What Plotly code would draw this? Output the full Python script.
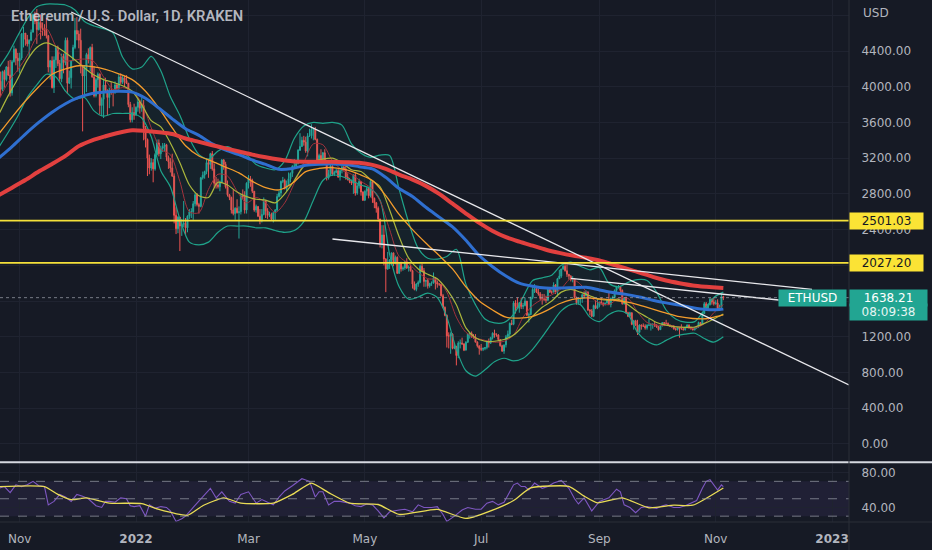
import pandas as pd
import plotly.graph_objects as go
from plotly.subplots import make_subplots

# values
title_text = "Ethereum / U.S. Dollar, 1D, KRAKEN"
first_day = "2021-10-21"
first_open = 4170

# daily closes / highs / lows, one month per row (Oct 21 2021 .. Nov 5 2022)
closes = [
    4060, 3970, 4170, 4080, 4220, 4130, 3930, 4280, 4420, 4320, 4290,
    4320, 4590, 4600, 4530, 4480, 4520, 4610, 4810, 4730, 4640, 4720, 4660, 4650, 4630, 4570, 4220, 4290, 3990, 4300, 4440, 4260, 4090, 4340, 4270, 4520, 4040, 4100, 4290, 4440, 4630,
    4590, 4520, 4240, 4120, 4200, 4360, 4310, 4440, 4110, 3900, 4080, 4140, 3790, 3860, 4020, 3960, 3880, 3960, 3940, 3940, 4020, 3980, 4110, 4050, 4100, 4070, 4040, 3800, 3630, 3710, 3680,
    3770, 3830, 3760, 3790, 3540, 3410, 3200, 3090, 3150, 3080, 3240, 3370, 3250, 3310, 3330, 3350, 3210, 3160, 3090, 3000, 2560, 2410, 2540, 2440, 2460, 2470, 2420, 2550, 2600, 2600, 2690,
    2790, 2680, 2660, 2980, 3010, 3050, 3150, 3130, 3250, 3080, 2920, 2900, 2880, 2930, 3180, 3130, 2880, 2790, 2760, 2620, 2580, 2640, 2590, 2600, 2780, 2770, 2620, 2920,
    2970, 2950, 2830, 2620, 2660, 2550, 2500, 2570, 2720, 2610, 2560, 2570, 2520, 2590, 2620, 2770, 2810, 2940, 2950, 2860, 2900, 2970, 3030, 3110, 3110, 3140, 3290, 3330, 3400, 3380, 3280,
    3450, 3450, 3520, 3520, 3410, 3170, 3230, 3190, 3260, 3150, 2980, 3030, 3110, 3020, 3040, 3060, 2990, 3060, 3100, 3080, 2990, 2960, 2940, 2920, 3010, 2810, 2890, 2940, 2820, 2730,
    2830, 2860, 2780, 2940, 2750, 2700, 2640, 2520, 2240, 2340, 2070, 1960, 2010, 2060, 2140, 2020, 2090, 1910, 2020, 1960, 1970, 2040, 1970, 1980, 1940, 1790, 1730, 1790, 1810, 1990, 1940,
    1820, 1830, 1770, 1800, 1800, 1860, 1810, 1790, 1790, 1660, 1530, 1440, 1210, 1210, 1230, 1070, 1090, 990, 1130, 1130, 1120, 1050, 1140, 1230, 1240, 1200, 1190, 1140, 1100, 1070,
    1060, 1070, 1080, 1150, 1130, 1190, 1240, 1220, 1220, 1170, 1100, 1040, 1110, 1200, 1230, 1350, 1340, 1580, 1540, 1520, 1580, 1540, 1550, 1600, 1440, 1450, 1640, 1730, 1740, 1700, 1680,
    1630, 1630, 1620, 1610, 1730, 1700, 1700, 1780, 1700, 1850, 1880, 1960, 1990, 1940, 1900, 1880, 1840, 1850, 1640, 1580, 1620, 1630, 1670, 1660, 1700, 1500, 1490, 1430, 1550, 1520, 1550,
    1590, 1580, 1560, 1580, 1620, 1560, 1630, 1640, 1720, 1760, 1760, 1720, 1570, 1640, 1470, 1430, 1470, 1340, 1380, 1330, 1250, 1330, 1320, 1320, 1300, 1330, 1330, 1340, 1340, 1330,
    1310, 1280, 1320, 1360, 1350, 1350, 1330, 1320, 1320, 1290, 1280, 1300, 1290, 1290, 1280, 1310, 1330, 1310, 1290, 1280, 1300, 1310, 1360, 1340, 1460, 1570, 1520, 1560, 1620, 1590, 1570,
    1580, 1520, 1530, 1650, 1638.21,
]
highs = [
    4375, 4170, 4180, 4190, 4230, 4290, 4300, 4300, 4460, 4430, 4380,
    4380, 4600, 4670, 4600, 4580, 4530, 4640, 4820, 4840, 4870, 4780, 4810, 4720, 4700, 4770, 4580, 4300, 4340, 4340, 4450, 4460, 4300, 4370, 4370, 4550, 4550, 4180, 4300, 4470, 4770,
    4780, 4630, 4650, 4240, 4240, 4380, 4430, 4450, 4480, 4230, 4100, 4160, 4150, 3880, 4090, 4100, 3970, 3990, 4050, 3970, 4060, 4040, 4140, 4150, 4130, 4120, 4130, 4040, 3830, 3770, 3810,
    3780, 3870, 3840, 3880, 3850, 3560, 3420, 3240, 3200, 3190, 3260, 3410, 3410, 3340, 3370, 3370, 3360, 3230, 3200, 3250, 3030, 2650, 2550, 2540, 2520, 2720, 2530, 2560, 2630, 2640, 2720,
    2810, 2810, 2700, 2990, 3050, 3060, 3200, 3180, 3260, 3280, 3140, 2990, 2970, 2950, 3190, 3190, 3160, 2950, 2800, 2770, 2850, 2650, 2740, 2660, 2800, 2850, 2830, 2930,
    3010, 3000, 2970, 2830, 2680, 2660, 2630, 2630, 2760, 2730, 2640, 2600, 2590, 2600, 2630, 2800, 2840, 2950, 2990, 2970, 2950, 3040, 3040, 3120, 3190, 3160, 3300, 3480, 3440, 3450, 3440,
    3480, 3530, 3580, 3540, 3550, 3420, 3250, 3300, 3270, 3300, 3170, 3070, 3130, 3120, 3060, 3080, 3080, 3080, 3120, 3160, 3170, 3030, 2980, 2960, 3020, 3040, 2920, 2970, 2940, 2830,
    2840, 2880, 2860, 2960, 2950, 2760, 2710, 2660, 2520, 2450, 2450, 2080, 2150, 2070, 2140, 2140, 2110, 2100, 2030, 2040, 1990, 2050, 2080, 2000, 2010, 1950, 1820, 1800, 1830, 2010, 2020,
    1970, 1840, 1850, 1800, 1820, 1920, 1870, 1830, 1800, 1790, 1680, 1540, 1450, 1250, 1250, 1240, 1120, 1100, 1150, 1170, 1190, 1130, 1150, 1230, 1250, 1260, 1230, 1230, 1150, 1100,
    1120, 1080, 1080, 1160, 1180, 1200, 1250, 1280, 1240, 1230, 1170, 1110, 1110, 1220, 1270, 1360, 1390, 1600, 1610, 1640, 1590, 1640, 1580, 1640, 1600, 1470, 1650, 1780, 1790, 1760, 1740,
    1700, 1680, 1680, 1660, 1740, 1750, 1720, 1810, 1790, 1860, 1950, 1960, 2000, 2030, 2010, 1900, 1890, 1880, 1850, 1650, 1640, 1630, 1680, 1710, 1720, 1710, 1510, 1510, 1560, 1610, 1620,
    1590, 1640, 1580, 1580, 1620, 1690, 1640, 1660, 1730, 1770, 1780, 1760, 1730, 1640, 1650, 1480, 1480, 1470, 1390, 1390, 1390, 1340, 1340, 1350, 1340, 1340, 1400, 1350, 1350, 1370,
    1340, 1320, 1330, 1360, 1360, 1390, 1360, 1340, 1330, 1330, 1300, 1300, 1300, 1340, 1300, 1310, 1340, 1340, 1310, 1310, 1310, 1320, 1370, 1360, 1480, 1590, 1590, 1570, 1640, 1630, 1640,
    1610, 1620, 1560, 1680, 1660,
]
lows = [
    3960, 3890, 3950, 3990, 4060, 4120, 3890, 3900, 4270, 4240, 4170,
    4150, 4300, 4440, 4460, 4450, 4330, 4510, 4610, 4700, 4480, 4630, 4530, 4570, 4570, 4540, 4160, 4080, 3980, 3930, 4210, 4230, 4060, 4050, 4150, 4240, 3920, 4030, 3980, 4290, 4420,
    4520, 4430, 4150, 3500, 3910, 3940, 4260, 4170, 4100, 3880, 3880, 3990, 3690, 3670, 3650, 3950, 3680, 3760, 3910, 3780, 3920, 3950, 3950, 4030, 4030, 4000, 4030, 3770, 3600, 3600, 3630,
    3680, 3720, 3700, 3720, 3400, 3320, 3000, 3020, 3060, 2930, 3060, 3230, 3220, 3190, 3270, 3280, 3170, 3080, 3040, 2990, 2470, 2350, 2360, 2160, 2330, 2430, 2340, 2370, 2520, 2530, 2510,
    2660, 2660, 2580, 2650, 2960, 2970, 3020, 2980, 3080, 3060, 2870, 2860, 2860, 2830, 2920, 3070, 2860, 2770, 2730, 2580, 2560, 2510, 2580, 2300, 2570, 2740, 2580, 2580,
    2860, 2880, 2810, 2600, 2590, 2540, 2460, 2480, 2560, 2530, 2520, 2540, 2500, 2480, 2510, 2600, 2760, 2770, 2920, 2850, 2830, 2890, 2930, 2990, 3090, 3090, 3130, 3280, 3330, 3340, 3260,
    3220, 3440, 3420, 3400, 3400, 3160, 3140, 3180, 3180, 3150, 2950, 2960, 3000, 3000, 3000, 3030, 2980, 2950, 3030, 3050, 2960, 2950, 2920, 2900, 2800, 2780, 2790, 2860, 2780, 2720,
    2720, 2780, 2750, 2760, 2700, 2640, 2590, 2490, 2200, 2190, 2000, 1700, 1950, 1960, 2000, 1990, 2010, 1910, 1910, 1930, 1940, 1950, 1960, 1930, 1930, 1740, 1720, 1710, 1760, 1800, 1930,
    1760, 1760, 1740, 1750, 1770, 1800, 1730, 1750, 1770, 1650, 1520, 1430, 1080, 1070, 1010, 1060, 1060, 880, 960, 1070, 1110, 1040, 1050, 1130, 1180, 1190, 1180, 1140, 1080, 1000,
    1040, 1040, 1050, 1060, 1080, 1120, 1170, 1190, 1200, 1150, 1090, 1030, 1010, 1080, 1180, 1190, 1330, 1330, 1460, 1510, 1470, 1510, 1510, 1540, 1440, 1360, 1440, 1620, 1690, 1690, 1660,
    1610, 1560, 1600, 1580, 1600, 1690, 1680, 1700, 1680, 1650, 1850, 1860, 1950, 1930, 1870, 1840, 1820, 1810, 1630, 1560, 1560, 1560, 1580, 1640, 1650, 1490, 1440, 1420, 1420, 1510, 1510,
    1530, 1560, 1540, 1550, 1570, 1560, 1530, 1610, 1630, 1700, 1740, 1690, 1560, 1560, 1460, 1420, 1430, 1330, 1280, 1320, 1220, 1250, 1280, 1310, 1280, 1280, 1320, 1270, 1290, 1310,
    1300, 1270, 1280, 1320, 1320, 1340, 1320, 1310, 1300, 1280, 1270, 1270, 1190, 1280, 1270, 1270, 1300, 1290, 1280, 1270, 1270, 1290, 1300, 1320, 1340, 1460, 1500, 1500, 1550, 1560, 1550,
    1560, 1510, 1510, 1530, 1610,
]

# moving averages, sampled weekly from Oct 21 2021 plus the last bar
ma_dates = list(pd.date_range("2021-10-21", "2022-11-03", freq="7D")) + [pd.Timestamp("2022-11-05")]
sma200 = [2785, 2870, 2955, 3050, 3135, 3225, 3335, 3400, 3445, 3485, 3512,
          3505, 3490, 3470, 3420, 3383, 3345, 3310, 3275, 3240, 3210, 3185, 3165, 3160,
          3160, 3160, 3155, 3148, 3125, 3080, 3015, 2960, 2890, 2800, 2690, 2580, 2475,
          2385, 2315, 2265, 2220, 2175, 2140, 2110, 2085, 2055, 2010, 1965, 1920, 1870,
          1830, 1800, 1775, 1760, 1748, 1745]
sma100 = [3200, 3330, 3470, 3600, 3715, 3810, 3880, 3925, 3942, 3950, 3940,
          3870, 3760, 3640, 3530, 3455, 3360, 3290, 3240, 3180, 3130, 3075, 3085, 3120,
          3132, 3135, 3128, 3105, 3080, 2985, 2860, 2770, 2650, 2540, 2430, 2280, 2110,
          1985, 1880, 1800, 1765, 1745, 1745, 1750, 1755, 1725, 1695, 1675, 1645, 1610,
          1580, 1555, 1525, 1505, 1505, 1510]
sma50 = [3470, 3660, 3840, 4000, 4140, 4200, 4235, 4225, 4195, 4145, 4080,
         3950, 3760, 3540, 3340, 3225, 3165, 3100, 3035, 2940, 2870, 2845, 2920, 3050,
         3085, 3095, 3072, 3020, 2950, 2780, 2570, 2400, 2250, 2110, 1960, 1760, 1600,
         1500, 1420, 1410, 1430, 1490, 1570, 1620, 1635, 1625, 1612, 1590, 1555, 1510,
         1465, 1425, 1405, 1402, 1435, 1445]

# Bollinger bands and the thin fast average, sampled every 5 days from Oct 21 2021
bb_dates = pd.date_range("2021-10-21", "2022-11-05", freq="5D")
bb_basis = [3690, 3900, 4090, 4300, 4440, 4490, 4450, 4380, 4300, 4210,
            4130, 4080, 4050, 4010, 3950, 3800, 3620, 3550, 3370, 3150,
            2900, 2780, 2760, 2930, 2900, 2820, 2770, 2740, 2730, 2700,
            2800, 2950, 3110, 3160, 3190, 3200, 3150, 3070, 3050, 2960,
            2880, 2620, 2320, 2080, 1960, 1900, 1850, 1730, 1560, 1300,
            1190, 1150, 1150, 1170, 1220, 1320, 1430, 1530, 1600, 1700,
            1730, 1700, 1660, 1620, 1610, 1620, 1560, 1480, 1420, 1360,
            1330, 1310, 1305, 1310, 1350, 1400, 1455]
bb_upper = [4210, 4370, 4570, 4760, 4895, 4925, 4925, 4915, 4860, 4730,
            4680, 4650, 4600, 4330, 4200, 4220, 4340, 4180, 3890, 3680,
            3420, 3240, 3190, 3280, 3330, 3270, 3235, 3130, 3090, 3070,
            3170, 3420, 3560, 3600, 3590, 3600, 3570, 3360, 3255, 3210,
            3235, 3230, 2850, 2480, 2190, 2080, 2070, 2100, 2180, 1790,
            1560, 1400, 1355, 1360, 1450, 1645, 1830, 1860, 1890, 2000,
            2035, 1990, 1950, 1975, 1800, 1760, 1810, 1840, 1830, 1700,
            1500, 1400, 1365, 1370, 1500, 1640, 1700]
bb_lower = [3320, 3490, 3670, 3880, 4020, 4140, 4110, 3950, 3860, 3880,
            3730, 3670, 3700, 3700, 3700, 3650, 3440, 3060, 2880, 2520,
            2260, 2230, 2260, 2370, 2440, 2440, 2440, 2420, 2420, 2390,
            2370, 2390, 2490, 2730, 2950, 3010, 2995, 2950, 2900, 2860,
            2730, 2120, 1760, 1620, 1645, 1690, 1640, 1420, 1060, 820,
            760, 830, 920, 960, 930, 960, 1060, 1200, 1350, 1490,
            1560, 1560, 1420, 1370, 1450, 1490, 1450, 1250, 1150, 1110,
            1160, 1210, 1230, 1240, 1180, 1140, 1200]
fast_ma = [3850, 4050, 4190, 4350, 4560, 4650, 4450, 4290, 4300, 4310,
           4280, 4110, 3970, 3990, 3950, 3820, 3540, 3300, 3240, 2940,
           2600, 2590, 2850, 3020, 3000, 2830, 2700, 2760, 2700, 2590,
           2700, 2920, 3150, 3360, 3350, 3170, 3070, 3020, 2940, 2870,
           2720, 2400, 2100, 2020, 1920, 1850, 1840, 1700, 1420, 1250,
           1190, 1160, 1140, 1150, 1220, 1420, 1550, 1620, 1670, 1740,
           1850, 1790, 1650, 1580, 1560, 1630, 1630, 1480, 1360, 1330,
           1330, 1315, 1302, 1298, 1345, 1470, 1560]

# RSI pane
rsi_dates = [
    "2021-10-21", "2021-10-24", "2021-10-27", "2021-10-30", "2021-11-02", "2021-11-05", "2021-11-08",
    "2021-11-11", "2021-11-14", "2021-11-16", "2021-11-19", "2021-11-22", "2021-11-25", "2021-11-28",
    "2021-12-01", "2021-12-04", "2021-12-07", "2021-12-11", "2021-12-14", "2021-12-16", "2021-12-18",
    "2021-12-21", "2021-12-24", "2021-12-27", "2021-12-29", "2021-12-31",
    "2022-01-03", "2022-01-06", "2022-01-08", "2022-01-11", "2022-01-14", "2022-01-17", "2022-01-19",
    "2022-01-22", "2022-01-25", "2022-01-27", "2022-01-31",
    "2022-02-04", "2022-02-09", "2022-02-12", "2022-02-15", "2022-02-19", "2022-02-22", "2022-02-25",
    "2022-03-01", "2022-03-05", "2022-03-08", "2022-03-11", "2022-03-14", "2022-03-17", "2022-03-20",
    "2022-03-24", "2022-03-29",
    "2022-04-02", "2022-04-05", "2022-04-07", "2022-04-09", "2022-04-12", "2022-04-15", "2022-04-18",
    "2022-04-21", "2022-04-23", "2022-04-26", "2022-04-29",
    "2022-05-02", "2022-05-05", "2022-05-08", "2022-05-11", "2022-05-14", "2022-05-16", "2022-05-19",
    "2022-05-22", "2022-05-26", "2022-05-29",
    "2022-06-01", "2022-06-05", "2022-06-08", "2022-06-11", "2022-06-13", "2022-06-17", "2022-06-21",
    "2022-06-24", "2022-06-28",
    "2022-07-01", "2022-07-04", "2022-07-07", "2022-07-10", "2022-07-13", "2022-07-16", "2022-07-18",
    "2022-07-20", "2022-07-22", "2022-07-24", "2022-07-26", "2022-07-29",
    "2022-08-02", "2022-08-05", "2022-08-08", "2022-08-12", "2022-08-14", "2022-08-16", "2022-08-19",
    "2022-08-21", "2022-08-24", "2022-08-28",
    "2022-09-01", "2022-09-06", "2022-09-10", "2022-09-12", "2022-09-14", "2022-09-17", "2022-09-20",
    "2022-09-23", "2022-09-26",
    "2022-10-01", "2022-10-04", "2022-10-06", "2022-10-10", "2022-10-13", "2022-10-16", "2022-10-19",
    "2022-10-22", "2022-10-25", "2022-10-27", "2022-10-29", "2022-10-31",
    "2022-11-02", "2022-11-04", "2022-11-05",
]
rsi_values = [
    62, 64, 57, 66, 64, 66, 70, 65, 64, 43, 47, 55, 52, 47, 55, 53, 50, 42, 40, 47, 47, 46, 51, 50, 42, 41,
    42, 30, 43, 39, 41, 40, 36, 24, 27, 30, 40,
    50, 62, 51, 58, 47, 45, 55,
    58, 45, 49, 46, 43, 52, 59, 65, 73,
    70, 52, 58, 58, 43, 47, 47, 46, 45, 42, 41,
    44, 43, 36, 28, 35, 36, 37, 38, 35, 43,
    40, 40, 41, 32, 24, 30, 37, 40, 38,
    38, 45, 47, 43, 46, 58, 66, 68, 64, 64, 60, 68,
    62, 64, 68, 71, 67, 62, 50, 44, 51, 36,
    47, 51, 61, 58, 43, 40, 34, 40, 41,
    39, 42, 43, 40, 40, 42, 45, 48, 62, 70, 72, 66,
    60, 66, 64,
]
rsi_ma_dates = [
    "2021-10-21", "2021-11-14", "2021-11-21", "2021-11-28", "2021-12-06", "2021-12-18", "2022-01-04",
    "2022-01-13", "2022-01-28", "2022-02-05", "2022-02-16", "2022-02-25", "2022-03-14", "2022-03-24",
    "2022-04-03", "2022-04-12", "2022-04-23", "2022-05-08", "2022-05-19", "2022-06-08", "2022-06-23",
    "2022-07-10", "2022-07-18", "2022-07-27", "2022-08-16", "2022-08-24", "2022-08-31", "2022-09-13",
    "2022-09-27", "2022-10-10", "2022-10-20", "2022-11-05",
]
rsi_ma_values = [64, 64, 55, 49, 51, 45, 44.5, 37.7, 31, 42, 51, 45, 45, 55, 68, 57, 45, 43.4, 32,
                 37.7, 27.4, 39.6, 48, 62.4, 64.3, 53, 45.3, 51, 39.6, 42.6, 42.6, 62.4]
rsi_levels = [70, 50, 30]

# drawn trendlines (start / end) and horizontal levels
trend_dates = [["2021-11-28", "2023-01-09 21:00"],
               ["2022-04-14", "2022-12-21 12:00"],
               ["2022-08-17", "2022-12-04"]]
trend_prices = [[4837, 660], [2295, 1731], [1855, 1612]]
levels = [2501.03, 2027.20]
countdown = "08:09:38"

price_ticks = [0, 400, 800, 1200, 1600, 2000, 2400, 2800, 3200, 3600, 4000, 4400, 4800]
price_tick_text = ["0.00", "400.00", "800.00", "1200.00", "", "", "2400.00", "2800.00",
                   "3200.00", "3600.00", "4000.00", "4400.00", ""]
date_ticks = ["2021-11-01", "2022-01-01", "2022-03-01", "2022-05-01", "2022-07-01",
              "2022-09-01", "2022-11-01", "2023-01-01"]
date_tick_text = ["Nov", "<b>2022</b>", "Mar", "May", "Jul", "Sep", "Nov", "<b>2023</b>"]

# ---- figure ----
BG = "#161a25"
GRID = "#1f2330"
AXIS_TXT = "#b2b5be"
TEAL = "#26a69a"
RED = "#ef5350"
FONT = "DejaVu Sans"

dates = pd.date_range(first_day, periods=len(closes), freq="D")
opens = [first_open] + closes[:-1]
highs = [max(h, o, c) for h, o, c in zip(highs, opens, closes)]
lows = [min(l, o, c) for l, o, c in zip(lows, opens, closes)]
last_price = closes[-1]

fig = make_subplots(rows=2, cols=1, shared_xaxes=True, vertical_spacing=0,
                    row_heights=[0.8856, 0.1144])

fig.add_trace(go.Candlestick(
    x=dates, open=opens, high=highs, low=lows, close=closes,
    increasing=dict(line=dict(color=TEAL, width=1), fillcolor=TEAL),
    decreasing=dict(line=dict(color=RED, width=1), fillcolor=RED),
    whiskerwidth=0, showlegend=False, hoverinfo="skip"), row=1, col=1)


def smooth_line(x, y, color, width, **kw):
    return go.Scatter(x=x, y=y, mode="lines", showlegend=False, hoverinfo="skip",
                      line=dict(color=color, width=width, shape="spline", smoothing=0.8), **kw)


bb_color = "#1fa38a"
fig.add_trace(smooth_line(bb_dates, bb_upper, bb_color, 1.2), row=1, col=1)
fig.add_trace(smooth_line(bb_dates, bb_lower, bb_color, 1.2, fill="tonexty",
                          fillcolor="rgba(34,171,148,0.06)"), row=1, col=1)
fig.add_trace(smooth_line(bb_dates, fast_ma, "#a3323c", 1), row=1, col=1)
fig.add_trace(smooth_line(bb_dates, bb_basis, "#aab63c", 1.2), row=1, col=1)
fig.add_trace(smooth_line(ma_dates, sma50, "#f39c2c", 1.3), row=1, col=1)
fig.add_trace(smooth_line(ma_dates, sma100, "#2f6fd0", 3), row=1, col=1)
fig.add_trace(smooth_line(ma_dates, sma200, "#e2403f", 4), row=1, col=1)

for td, tp in zip(trend_dates, trend_prices):
    fig.add_trace(go.Scatter(x=td, y=tp, mode="lines", showlegend=False, hoverinfo="skip",
                             line=dict(color="#e8e8ec", width=1.3)), row=1, col=1)

# RSI
fig.add_trace(go.Scatter(x=rsi_dates, y=rsi_values, mode="lines", showlegend=False,
                         hoverinfo="skip", line=dict(color="#7e57c2", width=1.1)), row=2, col=1)
fig.add_trace(go.Scatter(x=rsi_ma_dates, y=rsi_ma_values, mode="lines", showlegend=False,
                         hoverinfo="skip",
                         line=dict(color="#e9dc55", width=1.3, shape="spline", smoothing=0.5)),
              row=2, col=1)

shapes = []
for lv in levels:
    shapes.append(dict(type="line", xref="x domain", yref="y", x0=0, x1=1, y0=lv, y1=lv,
                       line=dict(color="#f5e13a", width=1.6)))
shapes.append(dict(type="line", xref="x domain", yref="y", x0=0, x1=1, y0=last_price,
                   y1=last_price, line=dict(color="rgba(160,165,175,0.7)", width=1, dash="dot")))
shapes.append(dict(type="rect", xref="x2 domain", yref="y2", x0=0, x1=1, y0=rsi_levels[2],
                   y1=rsi_levels[0], fillcolor="rgba(126,87,194,0.10)", line=dict(width=0),
                   layer="below"))
for lv in rsi_levels:
    shapes.append(dict(type="line", xref="x2 domain", yref="y2", x0=0, x1=1, y0=lv, y1=lv,
                       line=dict(color="rgba(140,144,155,0.8)", width=1, dash="dash")))
# pane separators and price-scale border
shapes.append(dict(type="line", xref="paper", yref="paper", x0=0, x1=1.1, y0=0.1144, y1=0.1144,
                   line=dict(color="#d6d9e0", width=2)))
shapes.append(dict(type="line", xref="paper", yref="paper", x0=0, x1=1.1, y0=0, y1=0,
                   line=dict(color="#2a2e39", width=1)))
shapes.append(dict(type="line", xref="paper", yref="paper", x0=1, x1=1, y0=-0.06, y1=1,
                   line=dict(color="#2a2e39", width=1)))

annotations = [
    dict(text=title_text, xref="paper", yref="paper", x=0.0106, y=0.9693, xanchor="left",
         yanchor="middle", showarrow=False,
         font=dict(family="Roboto", size=14.7, color="rgba(209,212,220,0.85)", weight=600)),
    dict(text="USD", xref="paper", yref="paper", x=861 / 849, y=(522 - 13) / 522,
         xanchor="left", yanchor="middle", showarrow=False,
         font=dict(family=FONT, size=12, color=AXIS_TXT)),
]
for lv in levels:
    annotations.append(dict(text=f"{lv:.2f}", xref="paper", yref="y", x=1, y=lv,
                            xanchor="left", yanchor="middle", showarrow=False,
                            bgcolor="#fbe335", width=71, height=14, borderpad=1,
                            font=dict(family=FONT, size=12, color="#131722")))
annotations.append(dict(text=f"{last_price:.2f}", xref="paper", yref="y", x=1, y=last_price,
                        xanchor="left", yanchor="middle", showarrow=False, bgcolor="#22a592",
                        width=75, height=14, borderpad=1,
                        font=dict(family=FONT, size=12, color="#ffffff")))
annotations.append(dict(text=countdown, xref="paper", yref="y", x=1, y=last_price, yshift=-14,
                        xanchor="left", yanchor="middle", showarrow=False, bgcolor="#22a592",
                        width=75, height=14, borderpad=1,
                        font=dict(family=FONT, size=12, color="#e6f5f2")))
annotations.append(dict(text="ETHUSD", xref="paper", yref="y", x=847 / 849, y=last_price,
                        xanchor="right", yanchor="middle", showarrow=False, bgcolor="#22a592",
                        width=65, height=14, borderpad=1,
                        font=dict(family=FONT, size=12, color="#ffffff")))

fig.update_layout(
    width=932, height=550,
    margin=dict(l=0, r=83, t=0, b=28, autoexpand=False),
    paper_bgcolor=BG, plot_bgcolor=BG,
    showlegend=False,
    shapes=shapes, annotations=annotations,
    font=dict(family=FONT, size=12, color=AXIS_TXT),
)

x_range = ["2021-10-21 16:20", "2023-01-09 21:30"]
fig.update_xaxes(range=x_range, rangeslider_visible=False, showgrid=True, gridcolor=GRID,
                 gridwidth=1, tickvals=date_ticks, ticktext=date_tick_text, zeroline=False,
                 showline=False, automargin=False)
fig.update_xaxes(showticklabels=False, row=1, col=1)
fig.update_xaxes(ticks="outside", ticklen=6, tickcolor=BG,
                 tickfont=dict(family=FONT, size=12, color=AXIS_TXT), row=2, col=1)

fig.update_yaxes(side="right", range=[-205, 4971], tickvals=price_ticks, ticktext=price_tick_text,
                 showgrid=True, gridcolor=GRID, zeroline=False, ticks="outside", ticklen=9,
                 tickcolor=BG, tickfont=dict(family=FONT, size=12, color=AXIS_TXT),
                 automargin=False, row=1, col=1)
fig.update_yaxes(side="right", range=[23.3, 91.9], tickvals=[40, 80], ticktext=["40.00", "80.00"],
                 showgrid=True, gridcolor=GRID, zeroline=False, ticks="outside", ticklen=9,
                 tickcolor=BG, tickfont=dict(family=FONT, size=12, color=AXIS_TXT),
                 automargin=False, row=2, col=1)

# the page body default margin would shift the chart; drop it, and hide the modebar
fig.write_html("out.html", config={"displayModeBar": False},
               post_script="document.body.style.margin='0px';")
